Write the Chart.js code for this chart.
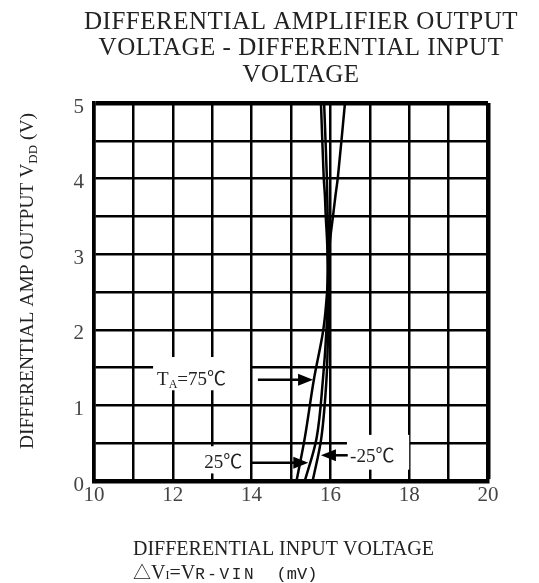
<!DOCTYPE html>
<html>
<head>
<meta charset="utf-8">
<script src="https://cdn.jsdelivr.net/npm/chart.js@4.4.1/dist/chart.umd.min.js"></script>
<style>
html, body { margin: 0; padding: 0; background: #fff; }
</style>
</head>
<body>
<canvas id="chart" width="539" height="583"></canvas>
<script>
var titleLines = ['DIFFERENTIAL AMPLIFIER OUTPUT', 'VOLTAGE - DIFFERENTIAL INPUT', 'VOLTAGE'];
var xTicks = [10, 12, 14, 16, 18, 20];
var yTicks = [0, 1, 2, 3, 4, 5];
// output voltage (V)
var outVolts = [0, 0.57, 1.34, 2.0, 2.53, 3.12, 3.52, 3.78, 4.02, 5];
// differential input (mV) for each temperature
var input75 = [15.14, 15.35, 15.58, 15.82, 15.92, 15.98, 16.07, 16.13, 16.19, 16.37];
var input25 = [15.35, 15.65, 15.81, 15.9, 15.93, 15.94, 15.93, 15.92, 15.91, 15.84];
var inputMinus25 = [15.55, 15.77, 15.9, 15.94, 15.94, 15.92, 15.88, 15.86, 15.83, 15.76];

var serif = '"Liberation Serif", "Times New Roman", "Noto Sans CJK SC", serif';
var mono = '"Liberation Mono", "DejaVu Sans Mono", monospace';

function toPoints(xs, ys) {
    var pts = [];
    for (var i = 0; i < xs.length; i++) {
        pts.push({x: xs[i], y: ys[i]});
    }
    return pts;
}

function curve(values) {
    return {
        data: toPoints(values, outVolts),
        showLine: true,
        borderColor: '#000',
        borderWidth: 2.5,
        pointRadius: 0,
        tension: 0.35,
        fill: false
    };
}

// draw a run of [text, size, dy, font, spacing] pieces starting at x
function drawRun(ctx, x, y, parts) {
    for (const p of parts) {
        ctx.font = p[1] + 'px ' + (p[3] || serif);
        ctx.letterSpacing = (p[4] || 0) + 'px';
        ctx.fillText(p[0], x, y + p[2]);
        x += ctx.measureText(p[0]).width;
    }
    ctx.letterSpacing = '0px';
    return x;
}

function runWidth(ctx, parts) {
    var w = 0;
    for (const p of parts) {
        ctx.font = p[1] + 'px ' + (p[3] || serif);
        ctx.letterSpacing = (p[4] || 0) + 'px';
        w += ctx.measureText(p[0]).width;
    }
    ctx.letterSpacing = '0px';
    return w;
}

function arrow(ctx, x1, y1, x2, y2) {
    var dir = x2 > x1 ? 1 : -1;
    ctx.beginPath();
    ctx.moveTo(x1, y1);
    ctx.lineTo(x2 - dir * 10, y2);
    ctx.lineWidth = 2.5;
    ctx.strokeStyle = '#000';
    ctx.stroke();
    ctx.beginPath();
    ctx.moveTo(x2, y2);
    ctx.lineTo(x2 - dir * 15, y2 - 6);
    ctx.lineTo(x2 - dir * 15, y2 + 6);
    ctx.closePath();
    ctx.fillStyle = '#000';
    ctx.fill();
}

var maskBoxes = [[11.5, 13.96, 1.20, 1.64], [12.43, 13.83, 0.1, 0.46], [16.42, 18.0, 0.15, 0.61]];

var decorations = {
    id: 'decorations',
    beforeDatasetsDraw: function(chart) {
        var ctx = chart.ctx, xs = chart.scales.x, ys = chart.scales.y;
        ctx.save();
        ctx.fillStyle = '#fff';
        for (const b of maskBoxes) {
            var l = xs.getPixelForValue(b[0]), r = xs.getPixelForValue(b[1]);
            var t = ys.getPixelForValue(b[3]), btm = ys.getPixelForValue(b[2]);
            ctx.fillRect(l, t, r - l, btm - t);
        }
        ctx.restore();
    },
    afterDatasetsDraw: function(chart) {
        var ctx = chart.ctx, xs = chart.scales.x, ys = chart.scales.y;
        ctx.save();
        ctx.fillStyle = '#222';
        ctx.textBaseline = 'middle';
        ctx.textAlign = 'left';
        drawRun(ctx, xs.getPixelForValue(11.6), ys.getPixelForValue(1.34),
            [['T', 19, 0], ['A', 12, 5], ['=75℃', 19, 0]]);
        drawRun(ctx, xs.getPixelForValue(12.8), ys.getPixelForValue(0.24), [['25℃', 19, 0]]);
        drawRun(ctx, xs.getPixelForValue(16.5), ys.getPixelForValue(0.32), [['-25℃', 19, 0]]);
        arrow(ctx, xs.getPixelForValue(14.16), ys.getPixelForValue(1.34), xs.getPixelForValue(15.56), ys.getPixelForValue(1.34));
        arrow(ctx, xs.getPixelForValue(13.96), ys.getPixelForValue(0.24), xs.getPixelForValue(15.44), ys.getPixelForValue(0.24));
        arrow(ctx, xs.getPixelForValue(16.44), ys.getPixelForValue(0.34), xs.getPixelForValue(15.76), ys.getPixelForValue(0.34));
        ctx.restore();
    },
    afterDraw: function(chart) {
        var ctx = chart.ctx;
        ctx.save();
        ctx.fillStyle = '#222';
        ctx.textAlign = 'center';
        ctx.textBaseline = 'alphabetic';
        ctx.font = '25px ' + serif;
        ctx.letterSpacing = '0.5px';
        var base = [29, 55, 82];
        for (var i = 0; i < titleLines.length; i++) {
            ctx.fillText(titleLines[i], 301, base[i]);
        }
        ctx.letterSpacing = '0px';
        ctx.textAlign = 'left';
        // y axis title, rotated
        var yParts = [['DIFFERENTIAL AMP OUTPUT V', 19.5, 0], ['DD', 13, 4], [' (V)', 19.5, 0]];
        ctx.translate(33, 281);
        ctx.rotate(-Math.PI / 2);
        drawRun(ctx, -runWidth(ctx, yParts) / 2, 0, yParts);
        ctx.setTransform(1, 0, 0, 1, 0, 0);
        // x axis title, two lines
        ctx.font = '20px ' + serif;
        ctx.fillText('DIFFERENTIAL INPUT VOLTAGE', 133, 555);
        drawRun(ctx, 133, 579, [['△', 18, 0], ['V', 20, 0], ['I', 12, 0], ['=V', 20, 0],
            ['R-VIN', 16, 0, mono, 2.6], ['  (mV)', 17, 0, mono]]);
        ctx.restore();
    }
};

function edgeWidth(limit) {
    return function(c) {
        return c.tick && c.tick.value === limit ? 4.5 : 2.5;
    };
}

new Chart(document.getElementById('chart'), {
    type: 'scatter',
    data: {
        datasets: [curve(input75), curve(input25), curve(inputMinus25)]
    },
    options: {
        responsive: false,
        animation: false,
        layout: { padding: { top: 103, right: 51, left: 0, bottom: 0 } },
        plugins: {
            legend: { display: false },
            tooltip: { enabled: false }
        },
        scales: {
            x: {
                type: 'linear',
                min: 10,
                max: 20,
                afterFit: function(s) { s.height = 102; },
                ticks: {
                    stepSize: 1,
                    autoSkip: false,
                    maxRotation: 0,
                    padding: 2,
                    color: '#444',
                    font: { family: serif, size: 21 },
                    callback: function(v) { return xTicks.indexOf(v) >= 0 ? v : ''; }
                },
                grid: { color: '#000', lineWidth: edgeWidth(20), drawTicks: false },
                border: { display: true, color: '#000', width: 4.5 }
            },
            y: {
                type: 'linear',
                min: 0,
                max: 5,
                afterFit: function(s) { s.width = 94; },
                ticks: {
                    stepSize: 0.5,
                    autoSkip: false,
                    padding: 10,
                    labelOffset: 4,
                    color: '#444',
                    font: { family: serif, size: 21 },
                    callback: function(v) { return yTicks.indexOf(v) >= 0 ? v : ''; }
                },
                grid: { color: '#000', lineWidth: edgeWidth(5), drawTicks: false },
                border: { display: true, color: '#000', width: 3.5 }
            }
        }
    },
    plugins: [decorations]
});
</script>
</body>
</html>
